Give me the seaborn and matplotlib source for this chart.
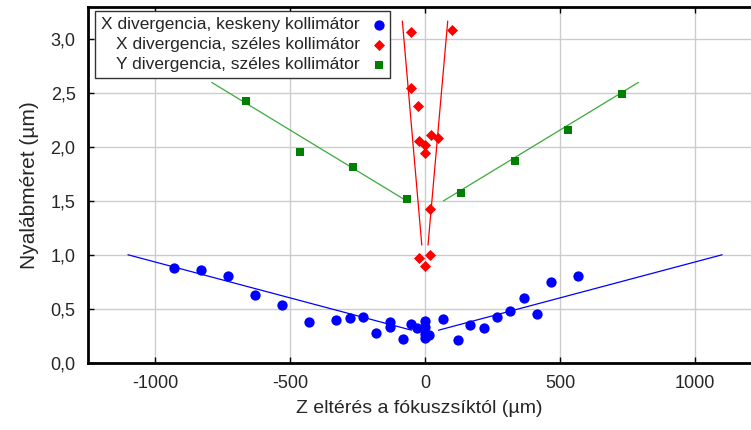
import matplotlib
matplotlib.use("Agg")
import matplotlib.pyplot as plt
import matplotlib.ticker as mticker
import seaborn as sns

# Measured beam spot sizes vs. defocus
blue_z = [-930, -830, -730, -631, -531, -430, -331, -279, -231, -180, -131, -131,
          -80, -52, -31, 0, 0, 0, 0, 16, 68, 121, 168, 217, 268, 316, 368, 416,
          468, 568]
blue_s = [0.873, 0.861, 0.80, 0.623, 0.53, 0.377, 0.395, 0.41, 0.426, 0.271,
          0.38, 0.33, 0.219, 0.355, 0.318, 0.386, 0.33, 0.268, 0.225, 0.253,
          0.404, 0.207, 0.352, 0.324, 0.426, 0.475, 0.599, 0.447, 0.747, 0.80]

red_z = [-52, 100, -52, -27, -21, 23, 48, 0, 0, 17, -21, 17, 0]
red_s = [3.068, 3.086, 2.55, 2.38, 2.06, 2.11, 2.086, 2.02, 1.947, 1.423,
         0.966, 0.997, 0.892]

green_z = [-663, -464, -265, -66, 133, 333, 530, 730]
green_s = [2.43, 1.95, 1.815, 1.52, 1.574, 1.87, 2.155, 2.497]

# Fitted linear branches (left / right of focus)
blue_fit_left_z, blue_fit_left_s = [-1100, -50], [1.00, 0.30]
blue_fit_right_z, blue_fit_right_s = [50, 1100], [0.30, 1.00]
red_fit_left_z, red_fit_left_s = [-84, -12], [3.17, 1.09]
red_fit_right_z, red_fit_right_s = [84, 11], [3.17, 1.09]
green_fit_left_z, green_fit_left_s = [-790, -68], [2.60, 1.50]
green_fit_right_z, green_fit_right_s = [68, 790], [1.50, 2.60]

labels = ["X divergencia, keskeny kollimátor",
          "X divergencia, széles kollimátor",
          "Y divergencia, széles kollimátor"]
x_ticks = [-1000, -500, 0, 500, 1000]
y_ticks = [0.0, 0.5, 1.0, 1.5, 2.0, 2.5, 3.0]

sns.set_theme(style="whitegrid")
plt.rcParams["font.family"] = ["Liberation Sans", "DejaVu Sans"]

fig = plt.figure(figsize=(7.51, 4.30), dpi=100)
ax = fig.add_axes([88 / 751, 1 - 362.5 / 430, 1 - 88 / 751, (362.5 - 7) / 430])

def fit_line(z, s, color, lw):
    sns.lineplot(x=z, y=s, ax=ax, color=color, linewidth=lw, sort=False,
                 estimator=None, legend=False, zorder=2)

fit_line(blue_fit_left_z, blue_fit_left_s, "#0000ff", 0.9)
fit_line(blue_fit_right_z, blue_fit_right_s, "#0000ff", 0.9)
fit_line(red_fit_left_z, red_fit_left_s, "#ff0000", 0.9)
fit_line(red_fit_right_z, red_fit_right_s, "#ff0000", 0.9)
fit_line(green_fit_left_z, green_fit_left_s, "#3aaa3a", 0.9)
fit_line(green_fit_right_z, green_fit_right_s, "#3aaa3a", 0.9)

sns.scatterplot(x=blue_z, y=blue_s, ax=ax, color="#0000ff", marker="o", s=55,
                edgecolor="#0000ff", linewidth=0, label=labels[0], zorder=3)
sns.scatterplot(x=red_z, y=red_s, ax=ax, color="#ff0000", marker="D", s=32,
                edgecolor="#ff0000", linewidth=0, label=labels[1], zorder=3)
sns.scatterplot(x=green_z, y=green_s, ax=ax, color="#007f00", marker="s", s=34,
                edgecolor="#007f00", linewidth=0, label=labels[2], zorder=3)

ax.set_xlim(-1248, 1207)
ax.set_ylim(0, 3.3)
ax.set_xticks(x_ticks)
ax.set_yticks(y_ticks)
ax.yaxis.set_major_formatter(mticker.FuncFormatter(lambda v, p: f"{v:.1f}".replace(".", ",")))
ax.xaxis.set_major_formatter(mticker.FuncFormatter(lambda v, p: f"{v:.0f}"))

ax.grid(True, color="#cccccc", linewidth=1.0)
ax.set_facecolor("white")
for side in ["left", "bottom", "top"]:
    ax.spines[side].set_visible(True)
    ax.spines[side].set_color("black")
    ax.spines[side].set_linewidth(2.0)
ax.spines["right"].set_visible(False)

ax.tick_params(axis="both", direction="in", length=4, width=1, color="black",
               labelsize=13, pad=9)
ax.tick_params(axis="x", top=True, bottom=True)
ax.tick_params(axis="y", left=True)

ax.set_xlabel("Z eltérés a fókuszsíktól (µm)", fontsize=14, labelpad=6)
ax.set_ylabel("Nyalábméret (µm)", fontsize=15, labelpad=8)

leg = ax.legend(loc="upper left", bbox_to_anchor=(95 / 751, 1 - 11 / 430),
                bbox_transform=fig.transFigure, markerfirst=False, fancybox=False,
                framealpha=1, edgecolor="#333333", fontsize=12.5, handletextpad=0.8,
                borderpad=0.35, labelspacing=0.28, handlelength=0.6,
                borderaxespad=0)
leg.get_frame().set_linewidth(1.0)
for col in leg._legend_handle_box.get_children():
    col.align = "right"

fig.savefig("out.png", dpi=100)
